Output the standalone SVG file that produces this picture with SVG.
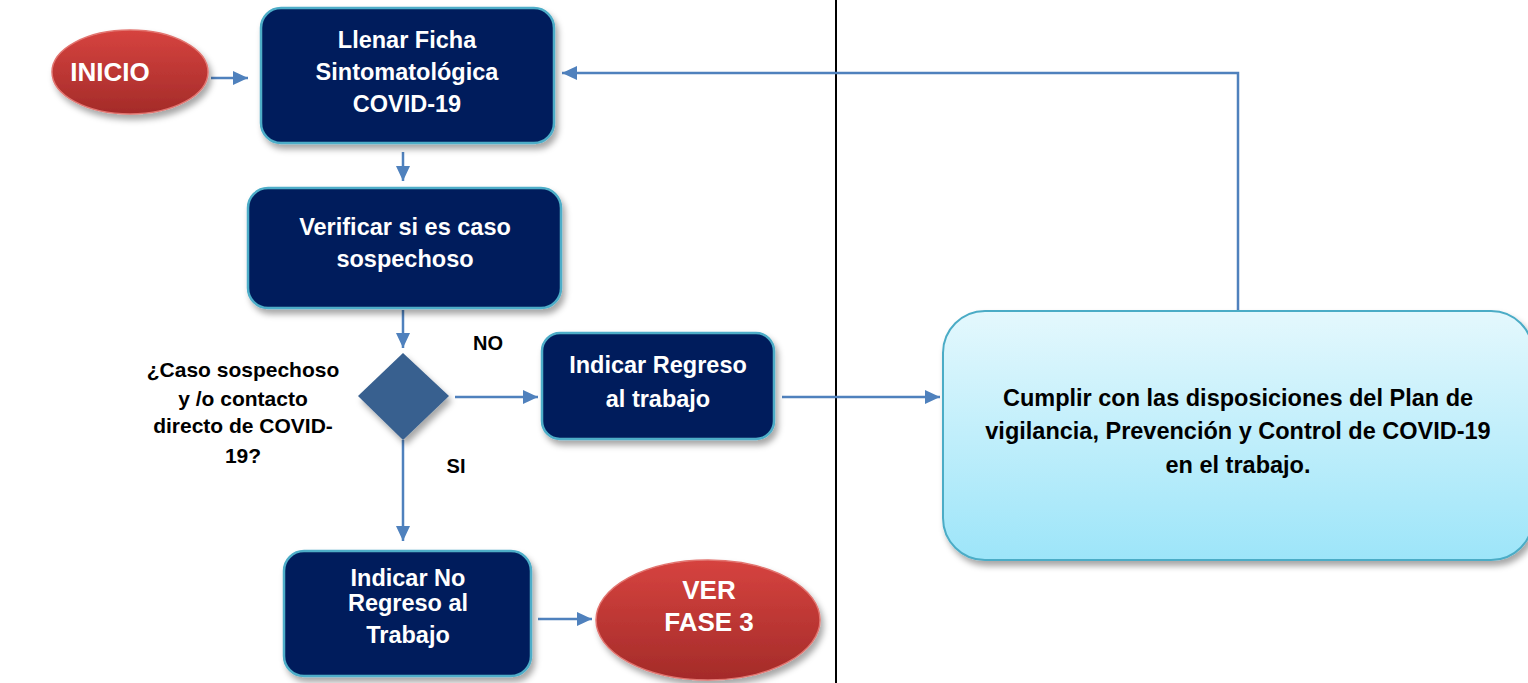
<svg xmlns="http://www.w3.org/2000/svg" width="1528" height="683" viewBox="0 0 1528 683">
<defs>
<style>
.box{fill:#021F5C;stroke:#4DADC8;stroke-width:2.5}
.wt{fill:#fff;font-family:"Liberation Sans",Arial,sans-serif;font-weight:bold;font-size:23.5px;text-anchor:middle}
.bt{fill:#000;font-family:"Liberation Sans",Arial,sans-serif;font-weight:bold;font-size:21px;text-anchor:middle}
.con{fill:none;stroke:#4F81BD;stroke-width:2.5}
</style>
<linearGradient id="red" x1="0" y1="0" x2="0" y2="1">
<stop offset="0" stop-color="#D6433F"/>
<stop offset="1" stop-color="#A42B29"/>
</linearGradient>
<linearGradient id="cyan" x1="0" y1="0" x2="0" y2="1">
<stop offset="0" stop-color="#E4F8FD"/>
<stop offset="1" stop-color="#9DE5F9"/>
</linearGradient>
<filter id="sh" x="-10%" y="-10%" width="125%" height="130%">
<feDropShadow dx="3" dy="5" stdDeviation="3" flood-color="#000" flood-opacity="0.35"/>
</filter>
<marker id="ah" markerUnits="userSpaceOnUse" markerWidth="16" markerHeight="16" refX="15" refY="8" orient="auto">
<path d="M0,1 L15,8 L0,15 Z" fill="#4F81BD"/>
</marker>
</defs>
<rect width="1528" height="683" fill="#fff"/>
<line x1="836" y1="0" x2="836" y2="683" stroke="#000" stroke-width="2"/>

<g id="connectors">
<path class="con" d="M211 78 H248" marker-end="url(#ah)"/>
<path class="con" d="M403 152 V181" marker-end="url(#ah)"/>
<path class="con" d="M403 310 V348" marker-end="url(#ah)"/>
<path class="con" d="M455 397 H538" marker-end="url(#ah)"/>
<path class="con" d="M403 440 V541" marker-end="url(#ah)"/>
<path class="con" d="M782 397 H940" marker-end="url(#ah)"/>
<path class="con" d="M538 619 H592" marker-end="url(#ah)"/>
<path class="con" d="M1238 311 V73 H562" marker-end="url(#ah)"/>
</g>

<g id="inicio">
<ellipse cx="130" cy="72" rx="78" ry="42" fill="url(#red)" stroke="#E27570" stroke-width="1.5" filter="url(#sh)"/>
<text class="wt" x="110" y="81" style="font-size:26px">INICIO</text>
</g>

<g id="llenar">
<rect class="box" x="261" y="8" width="293" height="135" rx="20" filter="url(#sh)"/>
<text class="wt" x="407" y="48">Llenar Ficha</text>
<text class="wt" x="407" y="80">Sintomatológica</text>
<text class="wt" x="407" y="112">COVID-19</text>
</g>

<g id="verificar">
<rect class="box" x="248" y="188" width="313" height="120" rx="20" filter="url(#sh)"/>
<text class="wt" x="405" y="235">Verificar si es caso</text>
<text class="wt" x="405" y="267">sospechoso</text>
</g>

<g id="decision">
<path d="M403 353 L449 396 L403 440 L358 396 Z" fill="#38608F" filter="url(#sh)"/>
<text class="bt" x="243" y="377">¿Caso sospechoso</text>
<text class="bt" x="243" y="406">y /o contacto</text>
<text class="bt" x="243" y="433">directo de COVID-</text>
<text class="bt" x="243" y="463">19?</text>
<text class="bt" x="488" y="350" style="font-size:20px">NO</text>
<text class="bt" x="456" y="473" style="font-size:20px">SI</text>
</g>

<g id="regreso">
<rect class="box" x="542" y="333" width="232" height="106" rx="18" filter="url(#sh)"/>
<text class="wt" x="658" y="373">Indicar Regreso</text>
<text class="wt" x="658" y="407">al trabajo</text>
</g>

<g id="noregreso">
<rect class="box" x="284" y="551" width="247" height="125" rx="20" filter="url(#sh)"/>
<text class="wt" x="408" y="586">Indicar No</text>
<text class="wt" x="408" y="611">Regreso al</text>
<text class="wt" x="408" y="643">Trabajo</text>
</g>

<g id="fase3">
<ellipse cx="708" cy="620" rx="112" ry="60" fill="url(#red)" stroke="#E27570" stroke-width="1.5" filter="url(#sh)"/>
<text class="wt" x="709" y="599" style="font-size:26px">VER</text>
<text class="wt" x="709" y="631" style="font-size:26px">FASE 3</text>
</g>

<g id="cumplir">
<rect x="943" y="311" width="590" height="249" rx="42" fill="url(#cyan)" stroke="#4BACC6" stroke-width="2" filter="url(#sh)"/>
<text class="bt" x="1238" y="406" style="font-size:23.5px">Cumplir con las disposiciones del Plan de</text>
<text class="bt" x="1238" y="439" style="font-size:23.5px">vigilancia, Prevención y Control de COVID-19</text>
<text class="bt" x="1238" y="473" style="font-size:23.5px">en el trabajo.</text>
</g>
</svg>
